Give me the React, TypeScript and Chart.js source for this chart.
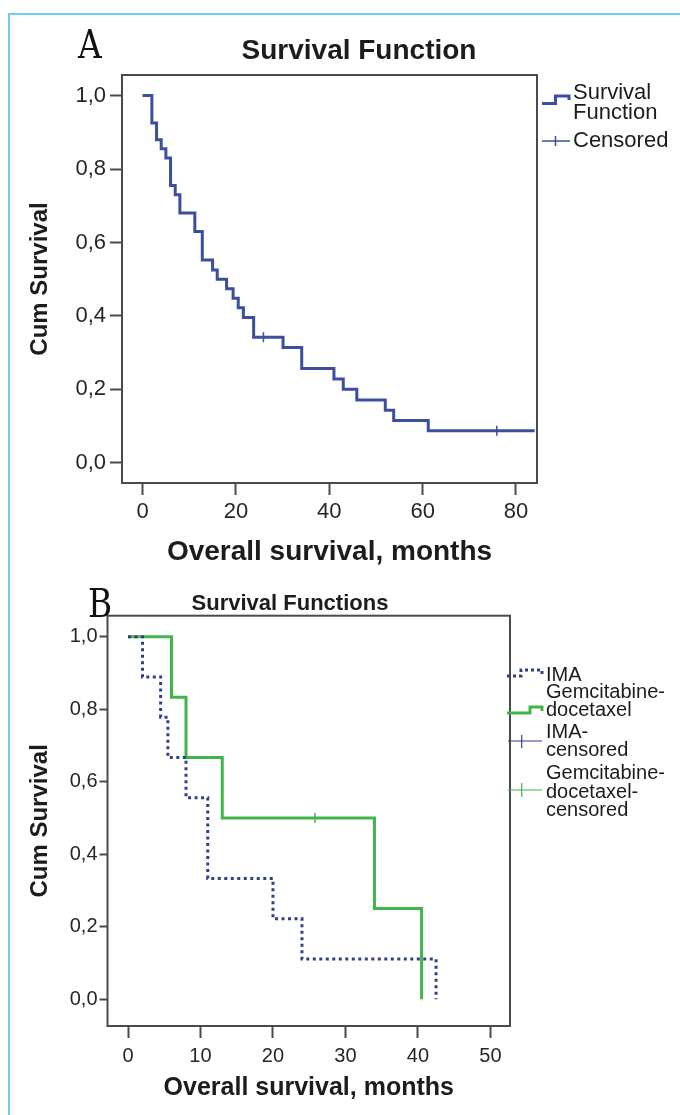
import React, { useEffect, useRef } from 'react';
import { Chart, registerables } from 'chart.js';

Chart.register(...registerables);

// ---------- Panel A data ----------
const aTimes = [0, 2, 3, 4, 5, 6, 7, 8, 11.2, 12.8, 15, 16, 18, 19.4, 20.5, 21.6, 23.8, 30.1, 34.1, 41.0, 43.0, 45.9, 52.0, 53.8, 61.2, 84];
const aSurv = [1, 0.925, 0.88, 0.855, 0.83, 0.755, 0.73, 0.68, 0.63, 0.552, 0.525, 0.5, 0.474, 0.448, 0.422, 0.396, 0.342, 0.314, 0.257, 0.228, 0.2, 0.171, 0.143, 0.115, 0.087, 0.087];
const aCensorTimes = [25.9, 75.9];
const aCensorSurv = [0.342, 0.087];
const aXTicks = [0, 20, 40, 60, 80];
const aYTicks = [0, 0.2, 0.4, 0.6, 0.8, 1.0];

// ---------- Panel B data ----------
const imaTimes = [0, 2, 4.5, 5.5, 8, 11, 20, 24, 42.5];
const imaSurv = [1, 0.889, 0.778, 0.667, 0.556, 0.333, 0.222, 0.111, 0];
const imaCensorTimes: number[] = [];
const imaCensorSurv: number[] = [];
const gemTimes = [0, 6, 8, 13, 34, 40.5];
const gemSurv = [1, 0.833, 0.667, 0.5, 0.25, 0];
const gemCensorTimes = [25.8];
const gemCensorSurv = [0.5];
const bXTicks = [0, 10, 20, 30, 40, 50];
const bYTicks = [0, 0.2, 0.4, 0.6, 0.8, 1.0];

const FONT = '"Liberation Sans", Arial, sans-serif';
const BLUE = '#3b4f9e';
const NAVY = '#323f86';
const GREEN = '#40b54a';
const FRAME = '#4a4a4a';
const TEXT = '#1c1c1c';

const fmt = (v: number) => v.toFixed(1).replace('.', ',');
const pts = (xs: number[], ys: number[]) => xs.map((x, i) => ({ x, y: ys[i] }));

function framePlugin(draw: (ctx: CanvasRenderingContext2D, chart: any) => void) {
  return {
    id: 'decor',
    afterDraw(chart: any) {
      const ctx = chart.ctx as CanvasRenderingContext2D;
      const a = chart.chartArea;
      ctx.save();
      ctx.strokeStyle = FRAME;
      ctx.lineWidth = 2;
      ctx.setLineDash([]);
      ctx.strokeRect(a.left, a.top, a.right - a.left, a.bottom - a.top);
      ctx.restore();
      ctx.save();
      draw(ctx, chart);
      ctx.restore();
    },
  };
}

function axisX(min: number, max: number, ticks: number[], height: number, tickSize: number, tickPad: number, titleSize: number, titlePad: number) {
  return {
    type: 'linear',
    min,
    max,
    afterBuildTicks: (s: any) => { s.ticks = ticks.map((v) => ({ value: v })); },
    afterFit: (s: any) => { s.height = height; },
    ticks: { autoSkip: false, maxRotation: 0, callback: (v: any) => String(v), font: { family: FONT, size: tickSize }, color: '#262626', padding: tickPad },
    grid: { display: true, drawOnChartArea: false, drawTicks: true, tickLength: 12, tickWidth: 2, tickColor: FRAME },
    border: { display: false },
    title: { display: true, text: 'Overall survival, months', font: { family: FONT, size: titleSize, weight: 'bold' }, color: TEXT, padding: { top: 0, bottom: titlePad } },
  };
}

function axisY(min: number, max: number, ticks: number[], width: number, tickSize: number, tickLen: number, tickPad: number, titleSize: number, titlePad: number) {
  return {
    type: 'linear',
    min,
    max,
    afterBuildTicks: (s: any) => { s.ticks = ticks.map((v) => ({ value: v })); },
    afterFit: (s: any) => { s.width = width; },
    ticks: { autoSkip: false, callback: (v: any) => fmt(Number(v)), font: { family: FONT, size: tickSize }, color: '#262626', padding: tickPad },
    grid: { display: true, drawOnChartArea: false, drawTicks: true, tickLength: tickLen, tickWidth: 2, tickColor: FRAME },
    border: { display: false },
    title: { display: true, text: 'Cum Survival', font: { family: FONT, size: titleSize, weight: 'bold' }, color: TEXT, padding: { top: titlePad, bottom: 0 } },
  };
}

function text(ctx: CanvasRenderingContext2D, s: string, x: number, y: number, font: string, align: CanvasTextAlign = 'left') {
  ctx.font = font;
  ctx.fillStyle = TEXT;
  ctx.textAlign = align;
  ctx.textBaseline = 'middle';
  ctx.fillText(s, x, y);
}

function line(ctx: CanvasRenderingContext2D, p: number[][], color: string, width: number, dash: number[] = []) {
  ctx.beginPath();
  ctx.strokeStyle = color;
  ctx.lineWidth = width;
  ctx.setLineDash(dash);
  ctx.moveTo(p[0][0], p[0][1]);
  for (let i = 1; i < p.length; i++) ctx.lineTo(p[i][0], p[i][1]);
  ctx.stroke();
  ctx.setLineDash([]);
}

function decorA(ctx: CanvasRenderingContext2D) {
  text(ctx, 'Survival Function', 359, 51, `bold 28px ${FONT}`, 'center');
  const lf = `22px ${FONT}`;
  line(ctx, [[542, 103.5], [555.5, 103.5], [555.5, 96], [569, 96], [569, 100]], BLUE, 3);
  text(ctx, 'Survival', 573, 93, lf);
  text(ctx, 'Function', 573, 113, lf);
  line(ctx, [[542, 141], [570, 141]], BLUE, 1.5);
  line(ctx, [[555.5, 136], [555.5, 146]], BLUE, 1.5);
  text(ctx, 'Censored', 573, 141, lf);
}

function decorB(ctx: CanvasRenderingContext2D) {
  const o = 580;
  text(ctx, 'Survival Functions', 290, 604 - o, `bold 22px ${FONT}`, 'center');
  const lf = `20px ${FONT}`;
  line(ctx, [[507, 676 - o], [521, 676 - o], [521, 670 - o], [542, 670 - o], [542, 674 - o]], NAVY, 3, [3, 3]);
  text(ctx, 'IMA', 546, 675 - o, lf);
  line(ctx, [[507, 713 - o], [530, 713 - o], [530, 707 - o], [542, 707 - o], [542, 711 - o]], GREEN, 3);
  text(ctx, 'Gemcitabine-', 546, 692 - o, lf);
  text(ctx, 'docetaxel', 546, 710 - o, lf);
  line(ctx, [[508, 741 - o], [542, 741 - o]], NAVY, 1.2);
  line(ctx, [[521.7, 735 - o], [521.7, 748 - o]], NAVY, 1.2);
  text(ctx, 'IMA-', 546, 732 - o, lf);
  text(ctx, 'censored', 546, 750 - o, lf);
  line(ctx, [[508, 790 - o], [542, 790 - o]], GREEN, 1.2);
  line(ctx, [[521.7, 783 - o], [521.7, 797 - o]], GREEN, 1.2);
  text(ctx, 'Gemcitabine-', 546, 773 - o, lf);
  text(ctx, 'docetaxel-', 546, 792 - o, lf);
  text(ctx, 'censored', 546, 810 - o, lf);
}

function censorSet(xs: number[], ys: number[], color: string) {
  return {
    data: pts(xs, ys),
    showLine: false,
    pointStyle: 'line',
    pointRotation: 90,
    pointRadius: 5,
    pointBorderWidth: 1.5,
    pointBorderColor: color,
    pointBackgroundColor: color,
    borderColor: color,
  };
}

export default function App() {
  const refA = useRef<HTMLCanvasElement>(null);
  const refB = useRef<HTMLCanvasElement>(null);

  useEffect(() => {
    const chartA = new Chart(refA.current as HTMLCanvasElement, {
      type: 'line',
      data: {
        datasets: [
          censorSet(aCensorTimes, aCensorSurv, BLUE),
          { data: pts(aTimes, aSurv), stepped: 'before', borderColor: BLUE, borderWidth: 3, pointRadius: 0, fill: false, borderJoinStyle: 'miter' },
        ] as any,
      },
      options: {
        responsive: false,
        animation: false,
        events: [],
        layout: { padding: { left: 0, right: 143, top: 75, bottom: 0 } },
        plugins: { legend: { display: false }, title: { display: false }, tooltip: { enabled: false } },
        scales: {
          x: axisX(-4.4, 84.5, aXTicks, 97, 22, 4, 28, 11),
          y: axisY(-0.055, 1.056, aYTicks, 122, 22, 12, 4, 24, 26),
        } as any,
      },
      plugins: [framePlugin(decorA)],
    } as any);

    const chartB = new Chart(refB.current as HTMLCanvasElement, {
      type: 'line',
      data: {
        datasets: [
          censorSet(imaCensorTimes, imaCensorSurv, NAVY),
          censorSet(gemCensorTimes, gemCensorSurv, GREEN),
          { data: pts(imaTimes, imaSurv), stepped: 'before', borderColor: NAVY, borderWidth: 3, borderDash: [3, 3.5], pointRadius: 0, fill: false },
          { data: pts(gemTimes, gemSurv), stepped: 'before', borderColor: GREEN, borderWidth: 3, pointRadius: 0, fill: false, borderJoinStyle: 'miter' },
        ] as any,
      },
      options: {
        responsive: false,
        animation: false,
        events: [],
        layout: { padding: { left: 0, right: 170, top: 35.7, bottom: 0 } },
        plugins: { legend: { display: false }, title: { display: false }, tooltip: { enabled: false } },
        scales: {
          x: axisX(-2.83, 52.7, bXTicks, 89, 20, 6, 25, 12),
          y: axisY(-0.074, 1.058, bYTicks, 107.5, 20, 8, 2, 24, 26),
        } as any,
      },
      plugins: [framePlugin(decorB)],
    } as any);

    return () => {
      chartA.destroy();
      chartB.destroy();
    };
  }, []);

  const letter: React.CSSProperties = {
    position: 'absolute',
    font: '40px "DejaVu Serif", serif',
    lineHeight: '40px',
    color: '#111',
    transform: 'scaleX(0.82)',
    transformOrigin: 'left top',
  };

  return (
    <div style={{ position: 'absolute', left: 0, top: 0, width: 680, height: 1115, overflow: 'hidden', background: '#fff' }}>
      <div style={{ position: 'absolute', left: 8, top: 13, width: 720, height: 1200, borderLeft: '2px solid #6fcdee', borderTop: '2px solid #6fcdee' }} />
      <canvas ref={refA} width={680} height={580} style={{ position: 'absolute', left: 0, top: 0 }} />
      <canvas ref={refB} width={680} height={535} style={{ position: 'absolute', left: 0, top: 580 }} />
      <div style={{ ...letter, left: 78, top: 24 }}>A</div>
      <div style={{ ...letter, left: 88, top: 583 }}>B</div>
    </div>
  );
}
